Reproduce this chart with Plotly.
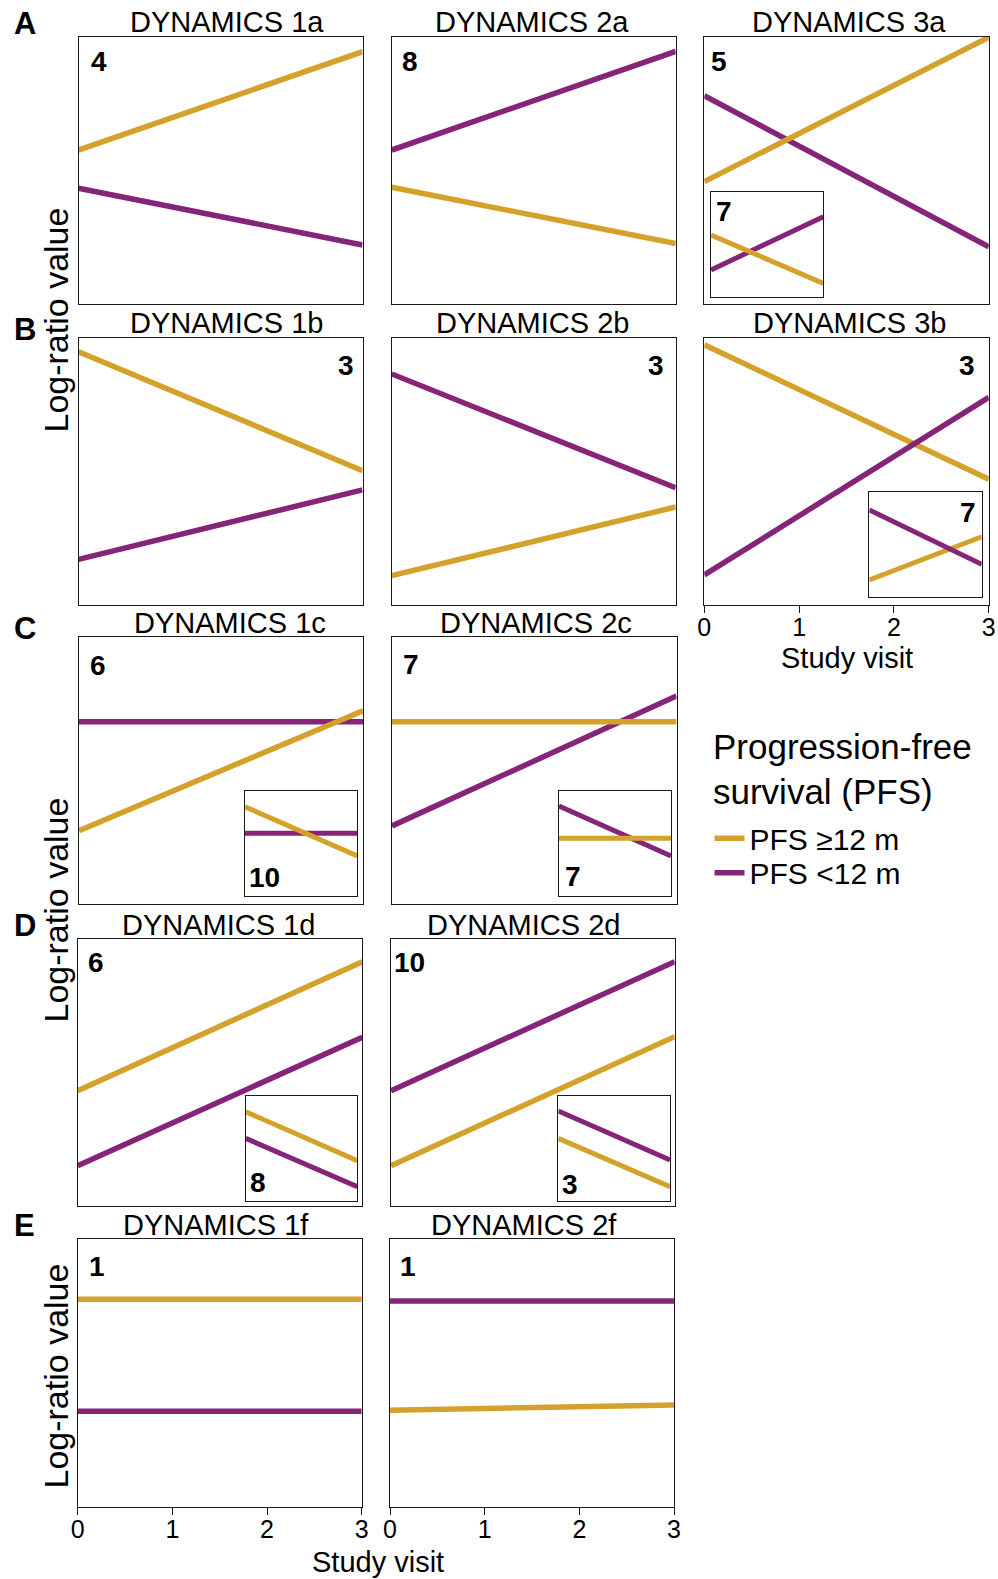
import plotly.graph_objects as go

W, H = 998, 1579
GOLD = "#D4A12A"
PURPLE = "#852479"
INK = "#1a1a1a"
FONT = "Liberation Sans, Arial, Helvetica, sans-serif"

# study visits spanned by each fitted trajectory, and the tick labels on the visit axis
visits = [0, 3]
visit_ticks = [0, 1, 2, 3]

# group trajectories (value at first and last visit) on a normalised log-ratio scale
# "ge12" = PFS >= 12 months, "lt12" = PFS < 12 months
ge12_1a = [0.576, 0.944]
lt12_1a = [0.433, 0.221]
ge12_2a = [0.437, 0.226]
lt12_2a = [0.576, 0.945]
ge12_3a = [0.458, 0.998]
lt12_3a = [0.779, 0.214]
ge12_3a_sub = [0.591, 0.128]
lt12_3a_sub = [0.256, 0.766]

ge12_1b = [0.947, 0.502]
lt12_1b = [0.170, 0.430]
ge12_2b = [0.109, 0.366]
lt12_2b = [0.864, 0.438]
ge12_3b = [0.973, 0.470]
lt12_3b = [0.112, 0.776]
ge12_3b_sub = [0.159, 0.571]
lt12_3b_sub = [0.826, 0.308]

ge12_1c = [0.275, 0.725]
lt12_1c = [0.684, 0.684]
ge12_1c_sub = [0.850, 0.381]
lt12_1c_sub = [0.597, 0.597]
ge12_2c = [0.684, 0.684]
lt12_2c = [0.293, 0.780]
ge12_2c_sub = [0.549, 0.549]
lt12_2c_sub = [0.857, 0.381]

ge12_1d = [0.432, 0.915]
lt12_1d = [0.151, 0.632]
ge12_1d_sub = [0.850, 0.384]
lt12_1d_sub = [0.597, 0.136]
ge12_2d = [0.151, 0.634]
lt12_2d = [0.432, 0.915]
ge12_2d_sub = [0.597, 0.136]
lt12_2d_sub = [0.857, 0.390]

ge12_1f = [0.775, 0.775]
lt12_1f = [0.356, 0.356]
ge12_2f = [0.360, 0.379]
lt12_2f = [0.768, 0.768]

# number of features following each dynamic
n_1a, n_2a, n_3a, n_3a_sub = "4", "8", "5", "7"
n_1b, n_2b, n_3b, n_3b_sub = "3", "3", "3", "7"
n_1c, n_1c_sub, n_2c, n_2c_sub = "6", "10", "7", "7"
n_1d, n_1d_sub, n_2d, n_2d_sub = "6", "8", "10", "3"
n_1f, n_2f = "1", "1"

fig = go.Figure()
axis_count = 0


def add_axes(box, with_ticks=False):
    """Create an x/y axis pair occupying box = (left, top, right, bottom) in pixels."""
    global axis_count
    axis_count += 1
    sfx = "" if axis_count == 1 else str(axis_count)
    left, top, right, bottom = box
    frame = dict(showline=True, mirror=True, linecolor=INK, linewidth=1.2,
                 showgrid=False, zeroline=False, fixedrange=True, automargin=False)
    xa = dict(domain=[left / W, right / W], range=[0, 3], anchor="y" + sfx, **frame)
    if with_ticks:
        xa.update(ticks="outside", ticklen=7, tickwidth=1.2, tickcolor=INK,
                  tickmode="array", tickvals=visit_ticks,
                  ticktext=[str(v) for v in visit_ticks], showticklabels=True,
                  ticklabelstandoff=-7,
                  tickfont=dict(size=25, color="black", family=FONT))
    else:
        xa.update(ticks="", showticklabels=False)
    ya = dict(domain=[1 - bottom / H, 1 - top / H], range=[0, 1], anchor="x" + sfx,
              ticks="", showticklabels=False, **frame)
    fig.update_layout(**{"xaxis" + sfx: xa, "yaxis" + sfx: ya})
    return "x" + sfx, "y" + sfx


def add_pair(xr, yr, ge, lt, width, gold_on_top=True, legend=False):
    order = [("lt", lt), ("ge", ge)] if gold_on_top else [("ge", ge), ("lt", lt)]
    for key, vals in order:
        fig.add_trace(go.Scatter(
            x=visits, y=vals, mode="lines", xaxis=xr, yaxis=yr,
            line=dict(color=GOLD if key == "ge" else PURPLE, width=width),
            name="PFS ≥12 m" if key == "ge" else "PFS <12 m",
            legend="legend" if key == "ge" else "legend2",
            showlegend=legend, hoverinfo="skip"))


def label(text, x, y, size, bold=False, xanchor="center", angle=0):
    fig.add_annotation(
        text=f"<b>{text}</b>" if bold else text, x=x / W, y=1 - y / H,
        xref="paper", yref="paper", xanchor=xanchor, yanchor="middle",
        showarrow=False, textangle=angle, borderpad=0,
        font=dict(size=size, color="black", family=FONT))


# main panels: (title, box, title centre x, ge12, lt12, count, count pos, anchor, ticks, gold on top)
panels = [
    ("DYNAMICS 1a", (78.5, 36.7, 362.5, 304.0), 226.6, ge12_1a, lt12_1a, n_1a, (90, 61), "left", False, True),
    ("DYNAMICS 2a", (391.7, 36.7, 675.7, 304.0), 532.0, ge12_2a, lt12_2a, n_2a, (401, 61), "left", False, True),
    ("DYNAMICS 3a", (704.3, 36.7, 988.8, 304.0), 849.0, ge12_3a, lt12_3a, n_3a, (710, 61), "left", False, True),
    ("DYNAMICS 1b", (78.5, 337.6, 362.5, 604.8), 226.6, ge12_1b, lt12_1b, n_1b, (355, 365), "right", False, True),
    ("DYNAMICS 2b", (391.7, 337.6, 675.7, 604.8), 532.0, ge12_2b, lt12_2b, n_2b, (665, 365), "right", False, True),
    ("DYNAMICS 3b", (704.3, 337.6, 988.8, 604.8), 849.0, ge12_3b, lt12_3b, n_3b, (976, 365), "right", True, False),
    ("DYNAMICS 1c", (79.0, 637.4, 363.0, 904.0), 229.5, ge12_1c, lt12_1c, n_1c, (89, 665), "left", False, True),
    ("DYNAMICS 2c", (392.0, 637.4, 676.5, 904.0), 536.0, ge12_2c, lt12_2c, n_2c, (402, 664), "left", False, True),
    ("DYNAMICS 1d", (77.7, 939.0, 362.3, 1206.0), 218.0, ge12_1d, lt12_1d, n_1d, (87, 963), "left", False, True),
    ("DYNAMICS 2d", (391.0, 939.0, 674.7, 1206.0), 523.3, ge12_2d, lt12_2d, n_2d, (393, 963), "left", False, True),
    ("DYNAMICS 1f", (77.7, 1239.0, 361.7, 1506.5), 216.0, ge12_1f, lt12_1f, n_1f, (88, 1266), "left", True, True),
    ("DYNAMICS 2f", (390.0, 1239.0, 674.0, 1506.5), 524.0, ge12_2f, lt12_2f, n_2f, (399, 1266), "left", True, True),
]

# inset panels: (box, ge12, lt12, count, count pos, anchor, gold on top)
insets = [
    ((711.0, 192.3, 823.3, 296.7), ge12_3a_sub, lt12_3a_sub, n_3a_sub, (715, 212), "left", True),
    ((869.3, 491.7, 981.7, 596.7), ge12_3b_sub, lt12_3b_sub, n_3b_sub, (977, 512), "right", False),
    ((245.0, 791.0, 357.3, 896.0), ge12_1c_sub, lt12_1c_sub, n_1c_sub, (248, 877), "left", True),
    ((559.0, 791.0, 671.0, 896.0), ge12_2c_sub, lt12_2c_sub, n_2c_sub, (564, 876), "left", True),
    ((245.7, 1096.0, 357.3, 1201.0), ge12_1d_sub, lt12_1d_sub, n_1d_sub, (249, 1182), "left", True),
    ((558.3, 1096.0, 670.0, 1201.0), ge12_2d_sub, lt12_2d_sub, n_2d_sub, (561, 1184), "left", True),
]

first = True
for title, box, tx, ge, lt, cnt, (cx, cy), anc, ticks, gold_top in panels:
    xr, yr = add_axes(box, with_ticks=ticks)
    add_pair(xr, yr, ge, lt, 5.5, gold_on_top=gold_top, legend=first)
    first = False
    title_y = box[1] - 14.5
    label(title, tx, title_y, 29)
    label(cnt, cx, cy, 28, bold=True, xanchor=anc)

for box, ge, lt, cnt, (cx, cy), anc, gold_top in insets:
    xr, yr = add_axes(box)
    add_pair(xr, yr, ge, lt, 5.0, gold_on_top=gold_top)
    label(cnt, cx, cy, 28, bold=True, xanchor=anc)

# row letters
for letter, ly in [("A", 24), ("B", 329), ("C", 628.5), ("D", 925.5), ("E", 1225)]:
    label(letter, 24.5, ly, 31, bold=True)

# shared axis titles
for cy in [320, 910, 1376]:
    label("Log-ratio value", 55.5, cy, 34, angle=-90)
label("Study visit", 847, 658, 29)
label("Study visit", 378, 1562, 29)

# legend heading
label("Progression-free", 712, 747, 35, xanchor="left")
label("survival (PFS)", 712, 791.5, 35, xanchor="left")

legend_style = dict(xanchor="left", yanchor="middle", bgcolor="rgba(0,0,0,0)",
                    borderwidth=0, itemwidth=30,
                    font=dict(size=30, color="black", family=FONT))
fig.update_layout(
    template="none",
    width=W, height=H,
    margin=dict(l=0, r=0, t=0, b=0, autoexpand=False),
    paper_bgcolor="white", plot_bgcolor="white",
    font=dict(family=FONT, color="black"),
    legend=dict(x=709.5 / W, y=1 - 838.3 / H, **legend_style),
    legend2=dict(x=709.5 / W, y=1 - 872.7 / H, **legend_style),
)

fig.write_html("out.html")
